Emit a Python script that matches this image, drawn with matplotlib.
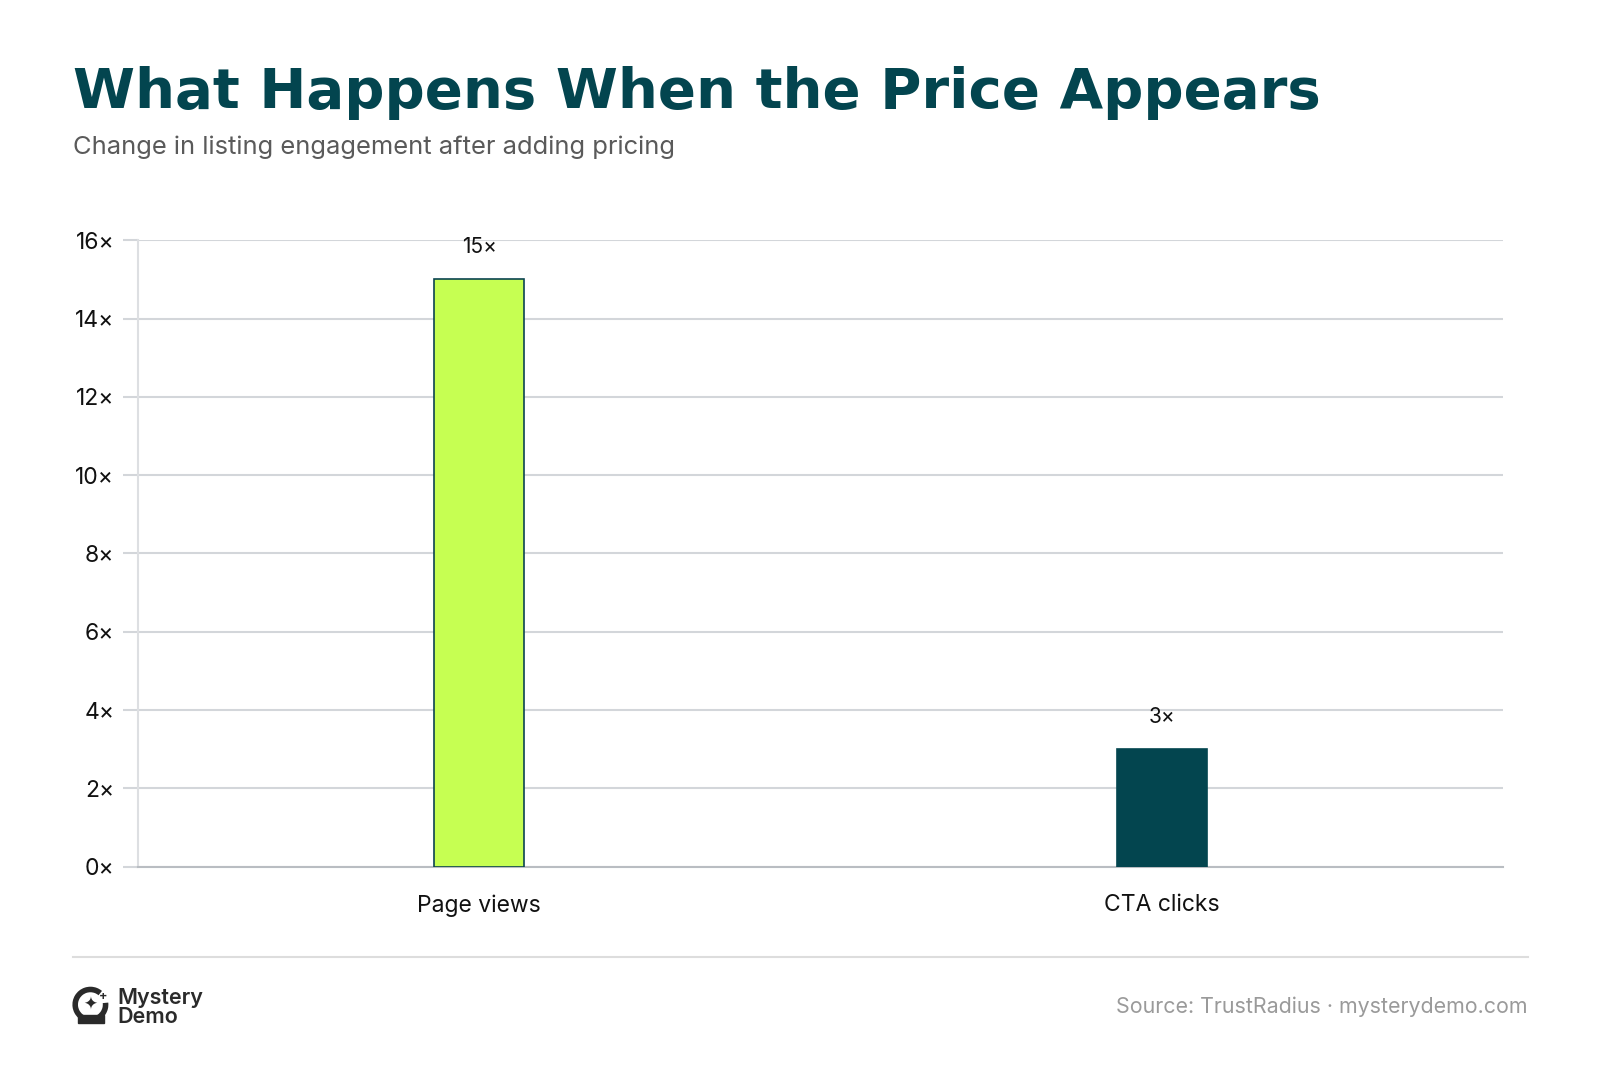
import numpy as np
import matplotlib
matplotlib.use("Agg")
import matplotlib.pyplot as plt
from matplotlib.patches import Arc, Rectangle
from matplotlib.lines import Line2D

# Daten
categories = ["Page views", "CTA clicks"]
values = [15, 3]
value_labels = ["15×", "3×"]
bar_colors = ["#C6FF52", "#03454F"]
edge_colors = ["#0B4450", "#03454F"]
y_ticks = [0, 2, 4, 6, 8, 10, 12, 14, 16]
y_tick_labels = [f"{t}×" for t in y_ticks]

title = "What Happens When the Price Appears"
subtitle = "Change in listing engagement after adding pricing"
source = "Source: TrustRadius · mysterydemo.com"

plt.rcParams["font.family"] = ["Inter", "DejaVu Sans"]

fig = plt.figure(figsize=(16, 10.82), dpi=100)
fig.patch.set_facecolor("white")

ax = fig.add_axes([0.0861, 0.199, 0.8533, 0.579])

x = np.arange(len(categories))
ax.bar(x, values, width=0.132, color=bar_colors, edgecolor=edge_colors,
       linewidth=1.2, zorder=3)

for xi, v, lab in zip(x, values, value_labels):
    ax.annotate(lab, (xi, v), xytext=(0, 16), textcoords="offset points",
                ha="center", va="bottom", fontsize=15, color="#111111")

ax.set_xlim(-0.5, 1.5)
ax.set_ylim(0, 16)
ax.set_xticks(x)
ax.set_xticklabels(categories, fontsize=16.5, color="#111111")
ax.set_yticks(y_ticks)
ax.set_yticklabels(y_tick_labels, fontsize=16.5, color="#111111")
ax.tick_params(axis="x", length=0, pad=20)
ax.tick_params(axis="y", length=11, width=1.5, color="#D3D6DA", pad=6)
ax.grid(axis="y", color="#D3D6DA", linewidth=1.5, zorder=0)
ax.set_axisbelow(True)
for side in ["top", "right"]:
    ax.spines[side].set_visible(False)
ax.spines["left"].set_color("#DDDFE2")
ax.spines["left"].set_linewidth(1.5)
ax.spines["bottom"].set_color("#B9BDC2")
ax.spines["bottom"].set_linewidth(1.5)

# Titel
fig.text(0.0456, 0.914, title, fontsize=40.5, fontweight="heavy",
         color="#03454F", family=["DejaVu Sans"], va="center", ha="left")
fig.text(0.0456, 0.864, subtitle, fontsize=18.4, color="#5A5A5A",
         va="center", ha="left")

# Trennlinie
fig.add_artist(Line2D([0.0456, 0.955], [0.1158, 0.1158], color="#DDDDDD",
                      linewidth=1.5, transform=fig.transFigure))

# Logo
fig.add_artist(Arc((0.0565, 0.0715), 0.019, 0.028, theta1=60, theta2=370,
                   color="#2A2A2A", linewidth=4, transform=fig.transFigure))
fig.add_artist(Rectangle((0.0487, 0.0545), 0.016, 0.007, color="#2A2A2A",
                         transform=fig.transFigure))
fig.text(0.0565, 0.0715, "✦", fontsize=12, color="#2A2A2A",
         family=["DejaVu Sans"], ha="center", va="center")
fig.text(0.0645, 0.0785, "+", fontsize=9, color="#2A2A2A", fontweight="bold",
         ha="center", va="center")
fig.text(0.0735, 0.0776, "Mystery", fontsize=15.5, fontweight="semibold",
         color="#2A2A2A", va="center", ha="left")
fig.text(0.0735, 0.0600, "Demo", fontsize=15.5, fontweight="semibold",
         color="#2A2A2A", va="center", ha="left")

fig.text(0.955, 0.070, source, fontsize=15.4, color="#9A9A9A",
         va="center", ha="right")

fig.savefig("out.png", dpi=100, facecolor="white")
